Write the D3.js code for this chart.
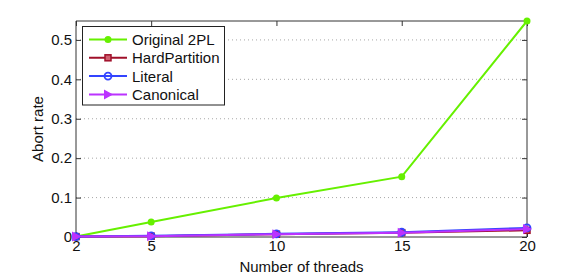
<!DOCTYPE html>
<html><head><meta charset="utf-8">
<script src="https://cdn.jsdelivr.net/npm/d3@7"></script>
<style>body{margin:0;background:#fff}svg{display:block}text{font-family:"Liberation Sans",Arial,sans-serif}</style>
</head><body><div id="chart"></div>
<script>
const threads = [2, 5, 10, 15, 20];
const original2PL = [0.001, 0.038, 0.099, 0.153, 0.548];
const hardPartition = [0.001, 0.002, 0.007, 0.011, 0.017];
const literal = [0.001, 0.003, 0.008, 0.012, 0.023];
const canonical = [0.001, 0.002, 0.007, 0.011, 0.020];
const yTicks = [0, 0.1, 0.2, 0.3, 0.4, 0.5];
const yTickLabels = ["0", "0.1", "0.2", "0.3", "0.4", "0.5"];
const seriesNames = ["Original 2PL", "HardPartition", "Literal", "Canonical"];
const seriesColors = ["#66f000", "#a0102a", "#3344ff", "#bb33ff"];
const seriesMarkers = ["dot", "square", "ring", "triangle"];
const seriesData = [original2PL, hardPartition, literal, canonical];

const W = 581, H = 276;
const m = {l: 76, r: 581 - 527, t: 21, b: 276 - 237};
const svg = d3.select("#chart").append("svg").attr("width", W).attr("height", H);
const x = d3.scaleLinear().domain([2, 20]).range([m.l, W - m.r]);
const y = d3.scaleLinear().domain([0, 0.548]).range([H - m.b, m.t]);

// grid
svg.append("g").selectAll("line").data(yTicks.filter(d => d > 0)).join("line")
  .attr("x1", x(2)).attr("x2", x(20)).attr("y1", d => y(d)).attr("y2", d => y(d))
  .attr("stroke", "#a8a8a8").attr("stroke-width", 1).attr("stroke-dasharray", "1,3");

const axisColor = "#333";
// axes
const gx = svg.append("g").attr("transform", `translate(0,${y(0)})`)
  .call(d3.axisBottom(x).tickValues(threads).tickSize(-5).tickPadding(3).tickFormat(d3.format("d")));
const gxt = svg.append("g").attr("transform", `translate(0,${y(0.548)})`)
  .call(d3.axisTop(x).tickValues(threads).tickSize(-5).tickFormat(""));
const gy = svg.append("g").attr("transform", `translate(${x(2)},0)`)
  .call(d3.axisLeft(y).tickValues(yTicks).tickSize(-5).tickPadding(4).tickFormat((d, i) => yTickLabels[i]));
const gyr = svg.append("g").attr("transform", `translate(${x(20)},0)`)
  .call(d3.axisRight(y).tickValues(yTicks).tickSize(-5).tickFormat(""));
[gx, gxt, gy, gyr].forEach(g => {
  g.selectAll("path").attr("stroke", axisColor).attr("stroke-width", 1);
  g.selectAll("line").attr("stroke", axisColor);
  g.selectAll("text").attr("fill", "#111").style("font-size", "15px");
});
gx.selectAll("path").attr("d", `M${x(2)},0H${x(20)}`);
gxt.selectAll("path").attr("d", `M${x(2)},0H${x(20)}`);
gy.selectAll("path").attr("d", `M0,${y(0)}V${y(0.548)}`);
gyr.selectAll("path").attr("d", `M0,${y(0)}V${y(0.548)}`);

function marker(g, type, color, cx, cy) {
  if (type === "dot") g.append("circle").attr("cx", cx).attr("cy", cy).attr("r", 3.5).attr("fill", color);
  else if (type === "square") g.append("rect").attr("x", cx - 3).attr("y", cy - 3).attr("width", 6).attr("height", 6)
    .attr("fill", "#d06070").attr("stroke", color).attr("stroke-width", 1.5);
  else if (type === "ring") g.append("circle").attr("cx", cx).attr("cy", cy).attr("r", 3.5)
    .attr("fill", "none").attr("stroke", color).attr("stroke-width", 1.8);
  else g.append("path").attr("d", `M${cx - 4},${cy - 5}L${cx + 5},${cy}L${cx - 4},${cy + 5}Z`).attr("fill", color);
}

const line = d3.line().x(d => x(d[0])).y(d => y(d[1]));
seriesData.forEach((vals, i) => {
  const pts = threads.map((t, j) => [t, vals[j]]);
  const g = svg.append("g");
  g.append("path").attr("d", line(pts)).attr("fill", "none").attr("stroke", seriesColors[i]).attr("stroke-width", 2);
  pts.forEach(p => marker(g, seriesMarkers[i], seriesColors[i], x(p[0]), y(p[1])));
});

// labels
svg.append("text").attr("x", (x(2) + x(20)) / 2).attr("y", 272).attr("text-anchor", "middle")
  .style("font-size", "15px").attr("fill", "#111").text("Number of threads");
svg.append("text").attr("transform", `translate(43,${(y(0) + y(0.548)) / 2}) rotate(-90)`).attr("text-anchor", "middle")
  .style("font-size", "15px").attr("fill", "#111").text("Abort rate");

// legend
const lg = svg.append("g");
lg.append("rect").attr("x", 82.5).attr("y", 26.5).attr("width", 142).attr("height", 78.5)
  .attr("fill", "#fff").attr("stroke", "#222").attr("stroke-width", 1);
seriesNames.forEach((n, i) => {
  const cy = 39.5 + i * 18.3;
  lg.append("line").attr("x1", 89).attr("x2", 127).attr("y1", cy).attr("y2", cy)
    .attr("stroke", seriesColors[i]).attr("stroke-width", 2);
  marker(lg, seriesMarkers[i], seriesColors[i], 108, cy);
  lg.append("text").attr("x", 132).attr("y", cy + 5.5).style("font-size", "15px").attr("fill", "#111").text(n);
});
</script></body></html>
